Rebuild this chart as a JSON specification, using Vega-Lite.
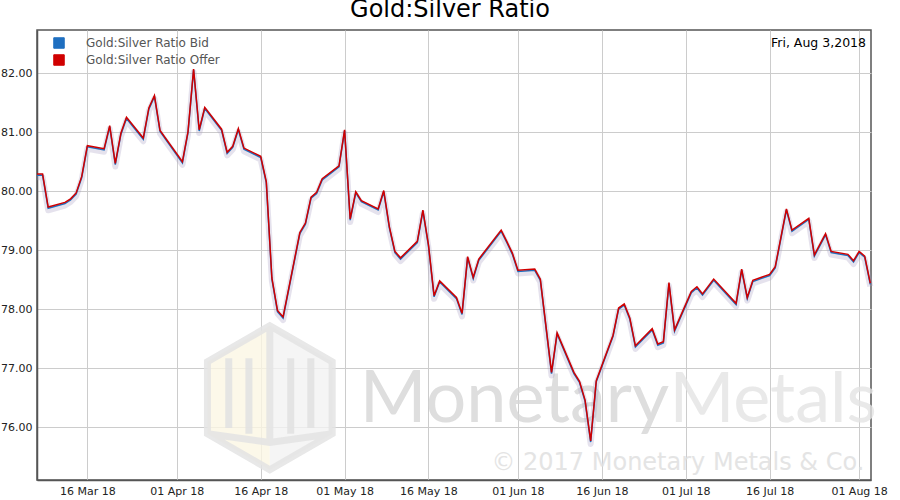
{
  "$schema": "https://vega.github.io/schema/vega-lite/v6.json",
  "width": 834,
  "height": 450,
  "padding": {"left": 37, "top": 30, "right": 29, "bottom": 20},
  "autosize": {"type": "none"},
  "title": {
    "text": "Gold:Silver Ratio",
    "font": "DejaVu Sans",
    "fontSize": 24,
    "fontWeight": "normal",
    "color": "#000000",
    "offset": 8,
    "dx": -4
  },
  "config": {
    "font": "DejaVu Sans",
    "view": {"stroke": "#555555", "strokeWidth": 1.5},
    "axis": {
      "grid": true,
      "gridColor": "#cccccc",
      "domainColor": "#555555",
      "domainWidth": 1.5,
      "ticks": false,
      "labelFontSize": 11,
      "labelColor": "#222222",
      "labelPadding": 5,
      "title": null
    }
  },
  "datasets": {
    "ratio": [
      {"date": "2018-03-07", "bid": 80.27, "offer": 80.29},
      {"date": "2018-03-08", "bid": 80.27, "offer": 80.29},
      {"date": "2018-03-09", "bid": 79.71, "offer": 79.73},
      {"date": "2018-03-12", "bid": 79.79, "offer": 79.81},
      {"date": "2018-03-13", "bid": 79.85, "offer": 79.87},
      {"date": "2018-03-14", "bid": 79.95, "offer": 79.97},
      {"date": "2018-03-15", "bid": 80.23, "offer": 80.25},
      {"date": "2018-03-16", "bid": 80.75, "offer": 80.77},
      {"date": "2018-03-19", "bid": 80.70, "offer": 80.72},
      {"date": "2018-03-20", "bid": 81.09, "offer": 81.11},
      {"date": "2018-03-21", "bid": 80.45, "offer": 80.47},
      {"date": "2018-03-22", "bid": 80.96, "offer": 80.98},
      {"date": "2018-03-23", "bid": 81.23, "offer": 81.25},
      {"date": "2018-03-26", "bid": 80.88, "offer": 80.90},
      {"date": "2018-03-27", "bid": 81.39, "offer": 81.41},
      {"date": "2018-03-28", "bid": 81.60, "offer": 81.62},
      {"date": "2018-03-29", "bid": 81.01, "offer": 81.03},
      {"date": "2018-04-02", "bid": 80.48, "offer": 80.50},
      {"date": "2018-04-03", "bid": 80.99, "offer": 81.01},
      {"date": "2018-04-04", "bid": 82.05, "offer": 82.07},
      {"date": "2018-04-05", "bid": 81.02, "offer": 81.04},
      {"date": "2018-04-06", "bid": 81.40, "offer": 81.42},
      {"date": "2018-04-09", "bid": 81.03, "offer": 81.05},
      {"date": "2018-04-10", "bid": 80.64, "offer": 80.66},
      {"date": "2018-04-11", "bid": 80.74, "offer": 80.76},
      {"date": "2018-04-12", "bid": 81.04, "offer": 81.06},
      {"date": "2018-04-13", "bid": 80.71, "offer": 80.73},
      {"date": "2018-04-16", "bid": 80.57, "offer": 80.59},
      {"date": "2018-04-17", "bid": 80.14, "offer": 80.16},
      {"date": "2018-04-18", "bid": 78.51, "offer": 78.53},
      {"date": "2018-04-19", "bid": 77.96, "offer": 77.98},
      {"date": "2018-04-20", "bid": 77.85, "offer": 77.87},
      {"date": "2018-04-23", "bid": 79.28, "offer": 79.30},
      {"date": "2018-04-24", "bid": 79.44, "offer": 79.46},
      {"date": "2018-04-25", "bid": 79.88, "offer": 79.90},
      {"date": "2018-04-26", "bid": 79.96, "offer": 79.98},
      {"date": "2018-04-27", "bid": 80.19, "offer": 80.21},
      {"date": "2018-04-30", "bid": 80.41, "offer": 80.43},
      {"date": "2018-05-01", "bid": 81.02, "offer": 81.04},
      {"date": "2018-05-02", "bid": 79.51, "offer": 79.53},
      {"date": "2018-05-03", "bid": 79.97, "offer": 79.99},
      {"date": "2018-05-04", "bid": 79.82, "offer": 79.84},
      {"date": "2018-05-07", "bid": 79.68, "offer": 79.70},
      {"date": "2018-05-08", "bid": 79.99, "offer": 80.01},
      {"date": "2018-05-09", "bid": 79.38, "offer": 79.40},
      {"date": "2018-05-10", "bid": 78.96, "offer": 78.98},
      {"date": "2018-05-11", "bid": 78.85, "offer": 78.87},
      {"date": "2018-05-14", "bid": 79.13, "offer": 79.15},
      {"date": "2018-05-15", "bid": 79.66, "offer": 79.68},
      {"date": "2018-05-16", "bid": 79.07, "offer": 79.09},
      {"date": "2018-05-17", "bid": 78.21, "offer": 78.23},
      {"date": "2018-05-18", "bid": 78.46, "offer": 78.48},
      {"date": "2018-05-21", "bid": 78.18, "offer": 78.20},
      {"date": "2018-05-22", "bid": 77.91, "offer": 77.93},
      {"date": "2018-05-23", "bid": 78.87, "offer": 78.89},
      {"date": "2018-05-24", "bid": 78.52, "offer": 78.54},
      {"date": "2018-05-25", "bid": 78.83, "offer": 78.85},
      {"date": "2018-05-29", "bid": 79.32, "offer": 79.34},
      {"date": "2018-05-30", "bid": 79.13, "offer": 79.15},
      {"date": "2018-05-31", "bid": 78.93, "offer": 78.95},
      {"date": "2018-06-01", "bid": 78.64, "offer": 78.66},
      {"date": "2018-06-04", "bid": 78.66, "offer": 78.68},
      {"date": "2018-06-05", "bid": 78.49, "offer": 78.51},
      {"date": "2018-06-07", "bid": 76.91, "offer": 76.93},
      {"date": "2018-06-08", "bid": 77.58, "offer": 77.60},
      {"date": "2018-06-11", "bid": 76.91, "offer": 76.93},
      {"date": "2018-06-12", "bid": 76.76, "offer": 76.78},
      {"date": "2018-06-13", "bid": 76.44, "offer": 76.46},
      {"date": "2018-06-14", "bid": 75.75, "offer": 75.77},
      {"date": "2018-06-15", "bid": 76.77, "offer": 76.79},
      {"date": "2018-06-18", "bid": 77.54, "offer": 77.56},
      {"date": "2018-06-19", "bid": 78.00, "offer": 78.02},
      {"date": "2018-06-20", "bid": 78.07, "offer": 78.09},
      {"date": "2018-06-21", "bid": 77.83, "offer": 77.85},
      {"date": "2018-06-22", "bid": 77.36, "offer": 77.38},
      {"date": "2018-06-25", "bid": 77.65, "offer": 77.67},
      {"date": "2018-06-26", "bid": 77.39, "offer": 77.41},
      {"date": "2018-06-27", "bid": 77.43, "offer": 77.45},
      {"date": "2018-06-28", "bid": 78.43, "offer": 78.45},
      {"date": "2018-06-29", "bid": 77.63, "offer": 77.65},
      {"date": "2018-07-02", "bid": 78.28, "offer": 78.30},
      {"date": "2018-07-03", "bid": 78.36, "offer": 78.38},
      {"date": "2018-07-04", "bid": 78.24, "offer": 78.26},
      {"date": "2018-07-06", "bid": 78.49, "offer": 78.51},
      {"date": "2018-07-10", "bid": 78.08, "offer": 78.10},
      {"date": "2018-07-11", "bid": 78.66, "offer": 78.68},
      {"date": "2018-07-12", "bid": 78.18, "offer": 78.20},
      {"date": "2018-07-13", "bid": 78.47, "offer": 78.49},
      {"date": "2018-07-16", "bid": 78.57, "offer": 78.59},
      {"date": "2018-07-17", "bid": 78.70, "offer": 78.72},
      {"date": "2018-07-19", "bid": 79.68, "offer": 79.70},
      {"date": "2018-07-20", "bid": 79.32, "offer": 79.34},
      {"date": "2018-07-23", "bid": 79.52, "offer": 79.54},
      {"date": "2018-07-24", "bid": 78.90, "offer": 78.92},
      {"date": "2018-07-26", "bid": 79.26, "offer": 79.28},
      {"date": "2018-07-27", "bid": 78.96, "offer": 78.98},
      {"date": "2018-07-30", "bid": 78.91, "offer": 78.93},
      {"date": "2018-07-31", "bid": 78.80, "offer": 78.82},
      {"date": "2018-08-01", "bid": 78.96, "offer": 78.98},
      {"date": "2018-08-02", "bid": 78.88, "offer": 78.90},
      {"date": "2018-08-03", "bid": 78.42, "offer": 78.44}
    ]
  },
  "layer": [
    {
      "data": {"values": [{"part": "left"}]},
      "mark": {"type": "point", "shape": "M0,-1L-0.866,-0.5L-0.866,0.5L0,1Z", "size": 20736, "filled": true, "fill": "#fbf6e4", "strokeWidth": 0, "opacity": 0.8},
      "encoding": {
        "x": {
          "datum": {"year": 2018, "month": 4, "date": 17, "hours": 15, "utc": true},
          "type": "temporal",
          "scale": {"type": "utc", "domain": [{"year": 2018, "month": 3, "date": 7, "utc": true}, {"year": 2018, "month": 8, "date": 3, "hours": 3, "utc": true}]},
          "axis": {
            "labelExpr": "utcFormat(datum.value, '%d %b %y')",
            "values": [
              {"year": 2018, "month": 3, "date": 16, "utc": true},
              {"year": 2018, "month": 4, "date": 1, "utc": true},
              {"year": 2018, "month": 4, "date": 16, "utc": true},
              {"year": 2018, "month": 5, "date": 1, "utc": true},
              {"year": 2018, "month": 5, "date": 16, "utc": true},
              {"year": 2018, "month": 6, "date": 1, "utc": true},
              {"year": 2018, "month": 6, "date": 16, "utc": true},
              {"year": 2018, "month": 7, "date": 1, "utc": true},
              {"year": 2018, "month": 7, "date": 16, "utc": true},
              {"year": 2018, "month": 8, "date": 1, "utc": true}
            ]
          }
        },
        "y": {
          "datum": 76.5,
          "type": "quantitative",
          "scale": {"domain": [75.107, 82.73], "zero": false, "nice": false},
          "axis": {"values": [76, 77, 78, 79, 80, 81, 82], "format": ".2f"}
        }
      }
    },
    {
      "data": {"values": [{"part": "right"}]},
      "mark": {"type": "point", "shape": "M0,-1L0.866,-0.5L0.866,0.5L0,1Z", "size": 20736, "filled": true, "fill": "#f3f3f3", "strokeWidth": 0, "opacity": 0.8},
      "encoding": {
        "x": {"datum": {"year": 2018, "month": 4, "date": 17, "hours": 15, "utc": true}, "type": "temporal"},
        "y": {"datum": 76.5, "type": "quantitative"}
      }
    },
    {
      "data": {"values": [{"part": "outline"}]},
      "mark": {"type": "point", "shape": "M0,-1L0.866,-0.5L0.866,0.5L0,1L-0.866,0.5L-0.866,-0.5Z M0,-1L0,0.62 M-0.866,0.5L0,0.62L0.866,0.5", "size": 20736, "filled": false, "stroke": "#e4e4e4", "strokeWidth": 7, "strokeJoin": "miter", "opacity": 0.85},
      "encoding": {
        "x": {"datum": {"year": 2018, "month": 4, "date": 17, "hours": 15, "utc": true}, "type": "temporal"},
        "y": {"datum": 76.5, "type": "quantitative"}
      }
    },
    {
      "data": {"values": [{"part": "bars"}]},
      "mark": {"type": "point", "shape": "M-0.57,-0.55L-0.57,0.42 M-0.29,-0.55L-0.29,0.5 M0.29,-0.55L0.29,0.5 M0.57,-0.55L0.57,0.42", "size": 20736, "filled": false, "stroke": "#e2e2e2", "strokeWidth": 7, "opacity": 0.85},
      "encoding": {
        "x": {"datum": {"year": 2018, "month": 4, "date": 17, "hours": 15, "utc": true}, "type": "temporal"},
        "y": {"datum": 76.5, "type": "quantitative"}
      }
    },
    {
      "data": {"values": [{"label": "Monetary"}]},
      "mark": {"type": "text", "align": "left", "baseline": "alphabetic", "font": "Lato", "fontSize": 72, "color": "#d6d6d6", "opacity": 0.8},
      "encoding": {
        "x": {"datum": {"year": 2018, "month": 5, "date": 3, "hours": 17, "utc": true}, "type": "temporal"},
        "y": {"datum": 76.095, "type": "quantitative"},
        "text": {"field": "label"}
      }
    },
    {
      "data": {"values": [{"label": "Metals"}]},
      "mark": {"type": "text", "align": "left", "baseline": "alphabetic", "font": "Lato", "fontSize": 70, "color": "#e4e4e4", "opacity": 0.8},
      "encoding": {
        "x": {"datum": {"year": 2018, "month": 6, "date": 28, "hours": 2, "utc": true}, "type": "temporal"},
        "y": {"datum": 76.095, "type": "quantitative"},
        "text": {"field": "label"}
      }
    },
    {
      "data": {"values": [{"label": "© 2017 Monetary Metals & Co."}]},
      "mark": {"type": "text", "align": "left", "baseline": "alphabetic", "font": "DejaVu Sans", "fontSize": 24, "color": "#e0e0e0", "opacity": 0.85},
      "encoding": {
        "x": {"datum": {"year": 2018, "month": 5, "date": 27, "hours": 6, "utc": true}, "type": "temporal"},
        "y": {"datum": 75.276, "type": "quantitative"},
        "text": {"field": "label"}
      }
    },
    {
      "data": {"name": "ratio"},
      "mark": {"type": "line", "color": "#a89fc4", "strokeWidth": 6, "opacity": 0.3, "yOffset": 2, "strokeJoin": "round"},
      "encoding": {
        "x": {"field": "date", "type": "temporal"},
        "y": {"field": "bid", "type": "quantitative"}
      }
    },
    {
      "data": {"name": "ratio"},
      "transform": [{"fold": ["bid", "offer"], "as": ["series", "value"]}],
      "mark": {"type": "line", "strokeWidth": 1.5},
      "encoding": {
        "x": {"field": "date", "type": "temporal"},
        "y": {"field": "value", "type": "quantitative"},
        "color": {
          "field": "series",
          "type": "nominal",
          "scale": {"domain": ["bid", "offer"], "range": ["#1f6fc0", "#d00000"]},
          "legend": {
            "title": null,
            "orient": "none",
            "legendX": 16,
            "legendY": 7,
            "padding": 0,
            "symbolType": "square",
            "symbolSize": 110,
            "labelFontSize": 12,
            "labelColor": "#555555",
            "labelOffset": 21,
            "rowPadding": 1,
            "labelExpr": "datum.value == 'bid' ? 'Gold:Silver Ratio Bid' : 'Gold:Silver Ratio Offer'",
            "encode": {
              "symbols": {
                "update": {
                  "fill": {"scale": "color", "field": "value"},
                  "fillOpacity": {"value": 1},
                  "stroke": {"value": "#bbbbbb"},
                  "strokeWidth": {"value": 1}
                }
              }
            }
          }
        }
      }
    },
    {
      "data": {"values": [{"label": "Fri, Aug 3,2018"}]},
      "mark": {"type": "text", "align": "right", "baseline": "middle", "dx": -5, "fontSize": 12.5, "color": "#000000"},
      "encoding": {
        "x": {"datum": {"year": 2018, "month": 8, "date": 3, "hours": 3, "utc": true}, "type": "temporal"},
        "y": {"datum": 82.51, "type": "quantitative"},
        "text": {"field": "label"}
      }
    }
  ]
}
